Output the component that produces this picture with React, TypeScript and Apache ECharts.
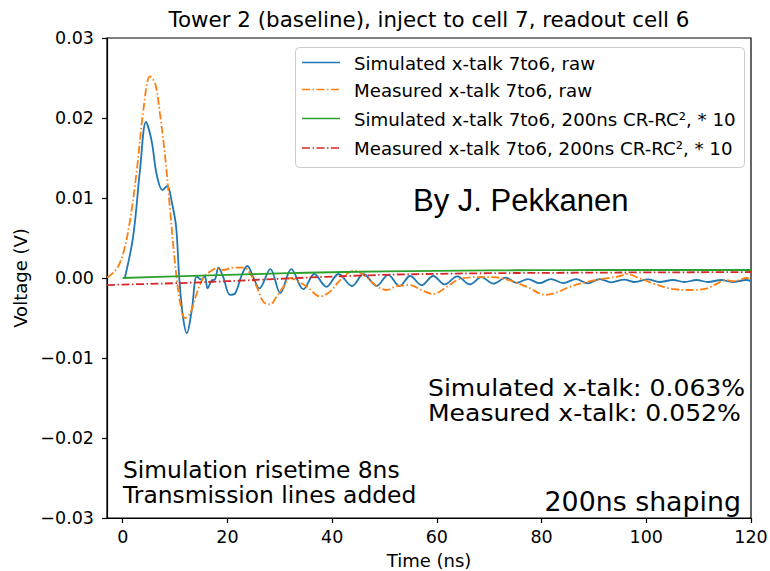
import React, { useEffect, useRef } from "react";
import * as echarts from "echarts";

// ---- data ----
const simRawT = [0.4, 2.0, 3.3, 4.45, 5.5, 6.5, 7.6, 8.5, 9.4, 10.2, 10.8, 11.5, 12.25, 13.2, 14.15, 15.0, 15.7, 16.2, 17.0, 17.6, 18.3, 19.2, 20.5, 21.5, 22.75, 23.8, 25.0, 26.1, 28.2, 30.1, 32.2, 34.5, 36.6, 38.9, 41.2, 43.8, 46.0, 48.5, 50.7, 52.9, 54.9, 57.1, 59.3, 61.5, 63.9, 66.3, 68.5, 70.8, 73.2, 75.2, 77.4, 79.6, 81.8, 84.1, 86.6, 88.8, 91.1, 93.3, 95.8, 97.8, 100.3, 102.5, 105.1, 107.3, 109.6, 111.8, 114.3, 116.5, 119.1, 120];
const simRawV = [0, 0.0052, 0.0135, 0.0195, 0.0172, 0.0129, 0.011, 0.0115, 0.0094, 0.0064, 0.0, -0.0048, -0.0069, -0.004, 0.0002, -0.0002, 0.0002, -0.0013, -0.0003, -0.0002, 0.0013, 0.0001, -0.0021, -0.0019, 0.0004, 0.0015, 0.0, -0.0013, 0.0011, -0.0019, 0.0011, -0.0014, 0.0005, -0.0011, 0.0005, -0.001, 0.0005, -0.001, 0.0004, -0.001, 0.00025, -0.0009, 0.00025, -0.0008, 0.0002, -0.0008, 0.0001, -0.0007, 0.00004, -0.0006, -0.00013, -0.00065, -0.00013, -0.00064, -0.00013, -0.00067, -0.00013, -0.00054, -0.0002, -0.0005, -0.00017, -0.0005, -0.00025, -0.0005, -0.00025, -0.0005, -0.00025, -0.0005, -0.00025, -0.0004];

const measRawT = [-3, -2.7, -1.1, 0.1, 1.4, 2.7, 3.95, 5.2, 6.2, 7.1, 8.1, 9.05, 10.0, 11.0, 11.9, 12.9, 14.15, 15.4, 16.7, 18.0, 19.2, 21.1, 23.1, 24.3, 25.6, 26.9, 28.2, 29.4, 30.7, 32.0, 33.2, 35.2, 37.7, 39.6, 41.5, 44.1, 46.0, 48.5, 50.4, 52.4, 54.9, 57.0, 59.3, 61.9, 64.1, 67.0, 70.8, 73.4, 77.2, 80.7, 82.9, 85.4, 88.6, 91.8, 95.0, 96.3, 98.2, 101.4, 105.2, 108.4, 111.6, 113.5, 115.1, 116.7, 119.2, 120];
const measRawV = [0.0001, 0.00016, 0.0012, 0.0031, 0.0072, 0.0135, 0.021, 0.0252, 0.0243, 0.0206, 0.0152, 0.0085, 0.0018, -0.0032, -0.005, -0.0044, -0.0019, 0.0, 0.0008, 0.0012, 0.001, 0.0013, 0.0013, 0.0006, -0.0011, -0.003, -0.0033, -0.0023, -0.0011, 0.0, -0.0003, -0.0011, -0.0023, -0.0017, -0.0003, 0.0009, 0.0004, -0.001, -0.0015, -0.001, -0.0009, -0.0015, -0.002, -0.0011, -0.0002, 0.0001, 0.0001, -0.0002, -0.0011, -0.0021, -0.0018, -0.0011, -0.0005, -0.0001, 0.00025, 0.0005, 0.0001, -0.0007, -0.0014, -0.0015, -0.0013, -0.0007, -0.00025, -0.0004, 0.0, -0.0003];

const simShapedT = [0, 10, 20, 30, 40, 50, 60, 70, 80, 90, 100, 110, 120];
const simShapedV = [0, 0.0002, 0.0004, 0.00058, 0.00072, 0.00083, 0.0009, 0.00095, 0.00098, 0.001, 0.001, 0.001, 0.001];

const measShapedT = [-3, 0, 10, 20, 30, 40, 50, 60, 70, 80, 90, 100, 110, 120];
const measShapedV = [-0.00088, -0.00082, -0.00065, -0.0004, -0.0001, 0.00018, 0.0004, 0.00052, 0.0006, 0.00064, 0.00067, 0.0007, 0.00072, 0.00075];

const xTicks = [0, 20, 40, 60, 80, 100, 120];

const seriesNames = [
  "Simulated x-talk 7to6, raw",
  "Measured x-talk 7to6, raw",
  "Simulated x-talk 7to6, 200ns CR-RC\u00b2, * 10",
  "Measured x-talk 7to6, 200ns CR-RC\u00b2, * 10",
];
const seriesColors = ["#1f77b4", "#ff7f0e", "#2ca02c", "#d62728"];
const dashDot = [8, 2.5, 1.5, 2.5];

const pairs = (t: number[], v: number[]) => t.map((x, i) => [x, v[i]]);

const FONT = "DejaVu Sans";

export default function App() {
  const ref = useRef<HTMLDivElement>(null);
  useEffect(() => {
    if (!ref.current) return;
    const chart = echarts.init(ref.current, undefined, { renderer: "svg" });

    const legendRows = [62.5, 89.5, 118.5, 148];
    const legendGraphics: any[] = [
      {
        type: "rect",
        shape: { x: 295.5, y: 47.5, width: 449, height: 120, r: 4 },
        style: { fill: "rgba(255,255,255,0.8)", stroke: "#cccccc", lineWidth: 1 },
        z: 100,
      },
    ];
    seriesNames.forEach((name, i) => {
      legendGraphics.push({
        type: "line",
        shape: { x1: 302, y1: legendRows[i], x2: 340, y2: legendRows[i] },
        style: {
          stroke: seriesColors[i],
          lineWidth: 1.6,
          lineDash: i % 2 === 1 ? dashDot : null,
        },
        z: 101,
      });
      legendGraphics.push({
        type: "text",
        x: 354,
        y: legendRows[i] + 0.5,
        style: {
          text: name,
          fontFamily: FONT,
          fontSize: 18.2,
          fill: "#000",
          align: "left",
          verticalAlign: "middle",
        },
        z: 101,
      });
    });

    const textEl = (text: string, x: number, y: number, size: number, align = "left", family = FONT, scaleX = 1) => ({
      type: "text",
      x,
      y,
      scaleX,
      style: {
        text,
        fontFamily: family,
        fontSize: size,
        fill: "#000",
        align,
        verticalAlign: "middle",
      },
      z: 101,
    });

    const option: any = {
      animation: false,
      textStyle: { fontFamily: FONT },
      grid: {
        left: 107,
        top: 38,
        width: 644,
        height: 480,
        show: true,
        borderColor: "#000",
        borderWidth: 1.2,
        backgroundColor: "transparent",
        containLabel: false,
        outerBoundsMode: "none",
      },
      xAxis: {
        type: "value",
        min: -3,
        max: 120,
        axisLine: { show: true, onZero: false, lineStyle: { color: "#000", width: 1.2 } },
        axisTick: { show: true, length: 5, customValues: xTicks, lineStyle: { color: "#000", width: 1.2 } },
        axisLabel: { customValues: xTicks, fontFamily: FONT, fontSize: 17.5, color: "#000", margin: 10 },
        splitLine: { show: false },
        name: "Time (ns)",
        nameLocation: "middle",
        nameGap: 33,
        nameTextStyle: { fontFamily: FONT, fontSize: 18, color: "#000" },
      },
      yAxis: {
        type: "value",
        min: -0.03,
        max: 0.03,
        interval: 0.01,
        axisLine: { show: true, onZero: false, lineStyle: { color: "#000", width: 1.2 } },
        axisTick: { show: true, length: 5, lineStyle: { color: "#000", width: 1.2 } },
        axisLabel: {
          fontFamily: FONT,
          fontSize: 17.5,
          color: "#000",
          margin: 13,
          formatter: (v: number) => {
            const r = Math.round(v * 100) / 100;
            if (Math.abs(r) < 1e-9) return "0.00";
            return r < 0 ? "\u2212" + Math.abs(r).toFixed(2) : r.toFixed(2);
          },
        },
        splitLine: { show: false },
        name: "Voltage (V)",
        nameLocation: "middle",
        nameGap: 76,
        nameRotate: 90,
        nameTextStyle: { fontFamily: FONT, fontSize: 18, color: "#000" },
      },
      series: [
        {
          name: seriesNames[0],
          type: "line",
          data: pairs(simRawT, simRawV),
          showSymbol: false,
          smooth: 0.35,
          lineStyle: { color: seriesColors[0], width: 1.8 },
          z: 2,
        },
        {
          name: seriesNames[1],
          type: "line",
          data: pairs(measRawT, measRawV),
          showSymbol: false,
          smooth: 0.35,
          lineStyle: { color: seriesColors[1], width: 1.8, type: dashDot },
          z: 3,
        },
        {
          name: seriesNames[2],
          type: "line",
          data: pairs(simShapedT, simShapedV),
          showSymbol: false,
          smooth: 0.4,
          lineStyle: { color: seriesColors[2], width: 1.8 },
          z: 4,
        },
        {
          name: seriesNames[3],
          type: "line",
          data: pairs(measShapedT, measShapedV),
          showSymbol: false,
          smooth: 0.4,
          lineStyle: { color: seriesColors[3], width: 1.8, type: dashDot },
          z: 5,
        },
      ],
      graphic: [
        textEl("Tower 2 (baseline), inject to cell 7, readout cell 6", 429, 19.5, 21.4, "center"),
        ...legendGraphics,
        textEl("By J. Pekkanen", 413, 200, 31, "left", "Liberation Sans"),
        textEl("Simulated x-talk: 0.063%", 428, 388.4, 23, "left", FONT, 1.09),
        textEl("Measured x-talk: 0.052%", 428, 413.6, 23, "left", FONT, 1.09),
        textEl("Simulation risetime 8ns", 123, 470.5, 22.8, "left", FONT, 1.025),
        textEl("Transmission lines added", 123, 495.5, 22.8, "left", FONT, 1.025),
        textEl("200ns shaping", 741, 501.5, 26.8, "right"),
      ],
    };
    chart.setOption(option);
    return () => chart.dispose();
  }, []);
  return (
    <div
      ref={ref}
      style={{ position: "fixed", left: 0, top: 0, width: 770, height: 571, background: "#fff" }}
    />
  );
}
